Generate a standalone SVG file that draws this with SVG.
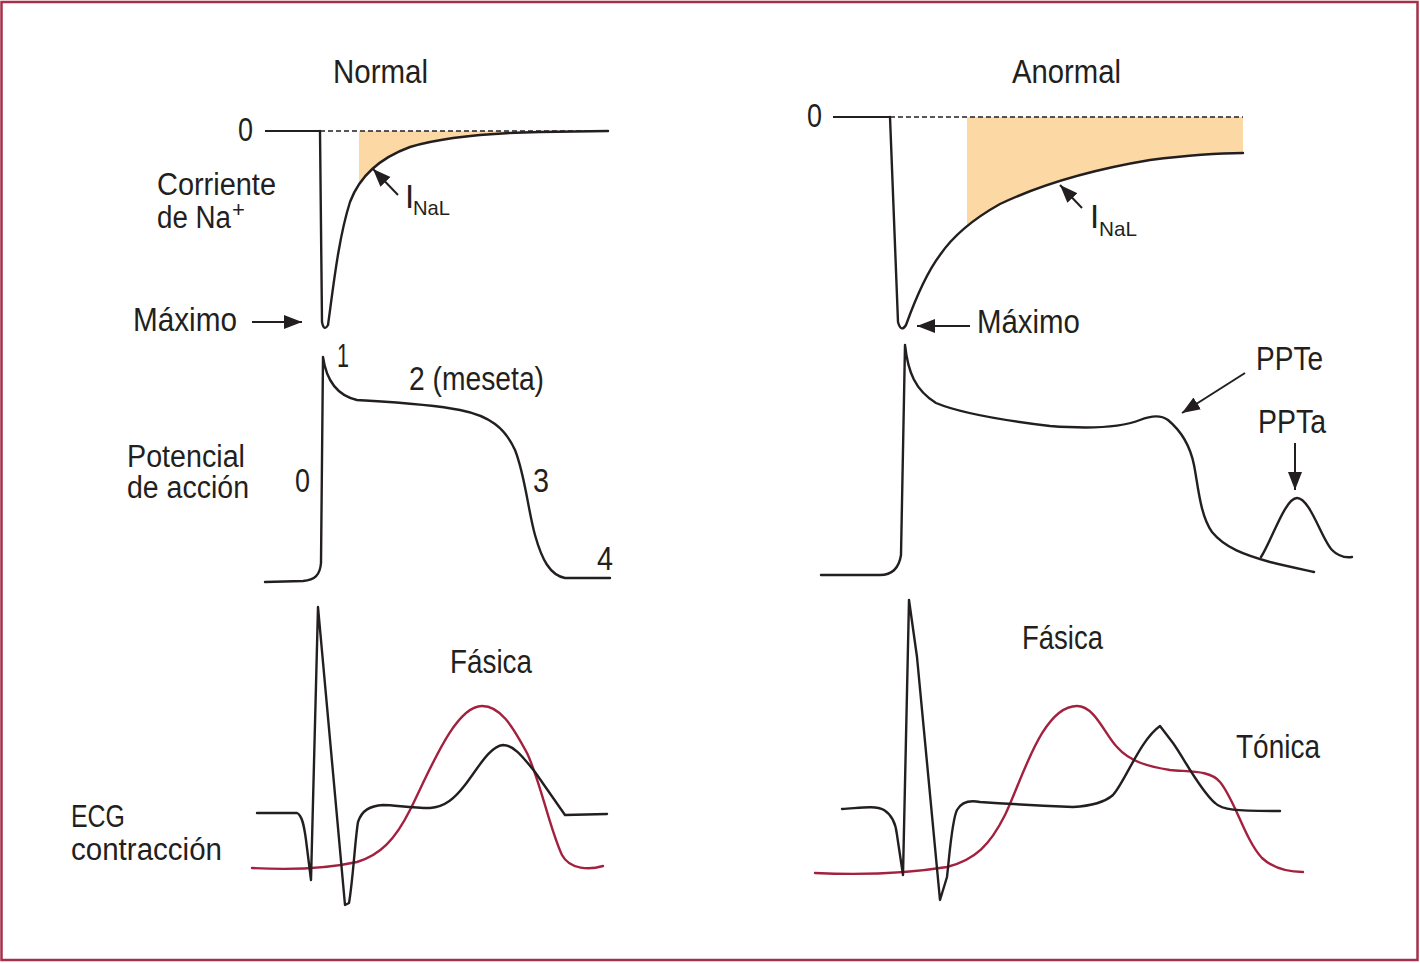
<svg xmlns="http://www.w3.org/2000/svg" width="1420" height="963" viewBox="0 0 1420 963">
<style>
text{font-family:"Liberation Sans",Arial,sans-serif;font-size:33px;fill:#231f20}
.sub{font-size:21px}
.two{font-size:31px}
.c{fill:none;stroke:#231f20;stroke-width:2.4;stroke-linejoin:round;stroke-linecap:round}
.r{fill:none;stroke:#a3213f;stroke-width:2.4;stroke-linejoin:round;stroke-linecap:round}
.ax{fill:none;stroke:#231f20;stroke-width:2}
.dash{fill:none;stroke:#231f20;stroke-width:1.6;stroke-dasharray:5 3}
.fill{fill:#fcd8a4;stroke:none}
.arr{fill:none;stroke:#231f20;stroke-width:2;marker-end:url(#ah)}
</style>
<defs>
<marker id="ah" markerUnits="userSpaceOnUse" markerWidth="20" markerHeight="16" refX="18" refY="7" orient="auto">
<path d="M0,0 L18,7 L0,14 z" fill="#231f20"/>
</marker>
<clipPath id="clipN"><rect x="359" y="120" width="260" height="120"/></clipPath>
<clipPath id="clipA"><rect x="967" y="100" width="277" height="200"/></clipPath>
</defs>
<rect x="1.5" y="2" width="1416" height="958" fill="#ffffff" stroke="#a62f4a" stroke-width="2.5"/>

<g id="titles">
<text x="333" y="83" textLength="95" lengthAdjust="spacingAndGlyphs">Normal</text>
<text x="1012" y="83" textLength="109" lengthAdjust="spacingAndGlyphs">Anormal</text>
</g>

<g id="row-labels">
<text class="two" x="157" y="195" textLength="119" lengthAdjust="spacingAndGlyphs">Corriente</text>
<text class="two" x="157" y="228" textLength="74" lengthAdjust="spacingAndGlyphs">de Na</text>
<text x="232" y="217" style="font-size:22px">+</text>
<text class="two" x="127" y="467" textLength="118" lengthAdjust="spacingAndGlyphs">Potencial</text>
<text class="two" x="127" y="498" textLength="122" lengthAdjust="spacingAndGlyphs">de acción</text>
<text class="two" x="71" y="827" textLength="54" lengthAdjust="spacingAndGlyphs">ECG</text>
<text class="two" x="71" y="860" textLength="151" lengthAdjust="spacingAndGlyphs">contracción</text>
</g>

<g id="normal-current">
<path class="fill" clip-path="url(#clipN)" d="M320,131 L322,322 Q324,332 328,325 C333,290 338,240 350,202 C360,175 380,158 410,147 C440,138 490,133 540,132 L608,131 Z"/>
<line class="ax" x1="265" y1="131" x2="320" y2="131"/>
<line class="dash" x1="320" y1="131" x2="608" y2="131"/>
<path class="c" d="M320,131 L322,322 Q324,332 328,325 C333,290 338,240 350,202 C360,175 380,158 410,147 C440,138 490,133 540,132 L608,131"/>
<text x="238" y="141" textLength="15" lengthAdjust="spacingAndGlyphs">0</text>
<text x="405" y="208">I</text>
<text class="sub" x="413" y="215" textLength="37" lengthAdjust="spacingAndGlyphs">NaL</text>
<text x="133" y="331" textLength="104" lengthAdjust="spacingAndGlyphs">Máximo</text>
</g>

<g id="abnormal-current">
<path class="fill" clip-path="url(#clipA)" d="M890,117 L898,322 Q901,333 906,325 C915,300 925,275 940,255 C955,233 975,218 1000,204 C1040,185 1090,170 1150,160 C1190,155 1220,153 1243,153 L1243,117 Z"/>
<line class="ax" x1="833" y1="117" x2="890" y2="117"/>
<line class="dash" x1="890" y1="117" x2="1243" y2="117"/>
<path class="c" d="M890,117 L898,322 Q901,333 906,325 C915,300 925,275 940,255 C955,233 975,218 1000,204 C1040,185 1090,170 1150,160 C1190,155 1220,153 1243,153"/>
<text x="807" y="127" textLength="15" lengthAdjust="spacingAndGlyphs">0</text>
<text x="1090" y="228">I</text>
<text class="sub" x="1099" y="236" textLength="38" lengthAdjust="spacingAndGlyphs">NaL</text>
<text x="977" y="333" textLength="103" lengthAdjust="spacingAndGlyphs">Máximo</text>
</g>

<g id="normal-ap">
<path class="c" d="M265,582 L303,581 C315,580 320,575 321,563 L323,357 C326,378 335,395 357,400 C390,402 430,404 460,410 C490,416 505,428 515,450 C525,475 528,510 535,535 C542,560 550,575 565,578 L610,578"/>
<text x="337" y="367" textLength="12" lengthAdjust="spacingAndGlyphs">1</text>
<text x="409" y="390" textLength="135" lengthAdjust="spacingAndGlyphs">2 (meseta)</text>
<text x="295" y="492" textLength="15" lengthAdjust="spacingAndGlyphs">0</text>
<text x="533" y="492" textLength="16" lengthAdjust="spacingAndGlyphs">3</text>
<text x="597" y="570" textLength="16" lengthAdjust="spacingAndGlyphs">4</text>
</g>

<g id="abnormal-ap">
<path class="c" d="M821,575 L880,575 C893,575 899,568 901,555 L905,345 C908,372 915,390 936,403 C960,413 1000,420 1050,426 C1090,429 1120,428 1140,420 C1150,416 1160,414 1168,420 C1180,430 1190,445 1194,465 C1198,485 1200,515 1212,532 C1225,548 1245,555 1270,562 C1290,567 1305,570 1314,572"/>
<path class="c" d="M1261,557 C1272,540 1285,498 1297,498 C1310,498 1322,540 1332,550 C1338,556 1345,558 1352,557"/>
<text x="1256" y="370" textLength="67" lengthAdjust="spacingAndGlyphs">PPTe</text>
<text x="1258" y="433" textLength="68" lengthAdjust="spacingAndGlyphs">PPTa</text>
</g>

<g id="normal-ecg">
<path class="r" d="M252,868 C290,870 330,868 357,862 C380,855 395,840 410,810 C430,770 455,706 482,706 C500,706 512,725 527,753 C540,780 550,830 562,855 C570,870 590,870 603,866"/>
<path class="c" d="M257,813 L297,813 C302,815 304,825 306,840 L311,880 L318,607 L345,905 L349,903 C353,880 355,840 358,822 C362,810 370,806 383,805 C395,805 410,808 430,808 C445,807 455,798 465,785 C478,768 490,746 503,745 C515,745 525,760 535,772 L565,815 L607,814"/>
<text x="450" y="673" textLength="82" lengthAdjust="spacingAndGlyphs">Fásica</text>
</g>

<g id="abnormal-ecg">
<path class="r" d="M815,873 C860,875 910,873 947,867 C975,860 990,845 1005,815 C1022,780 1042,706 1077,706 C1095,706 1105,735 1117,747 C1130,762 1150,767 1170,770 C1190,772 1210,770 1220,782 C1235,800 1245,840 1262,858 C1275,870 1290,872 1303,872"/>
<path class="c" d="M842,809 C860,808 875,805 884,810 C892,815 896,825 897,835 L903,875 L909,600 L917,657 L940,900 L947,877 C950,850 952,820 957,810 C962,801 970,800 980,802 C1010,804 1050,806 1073,807 C1090,806 1105,802 1113,795 C1125,782 1140,740 1160,726 L1173,743 C1185,760 1200,790 1215,803 C1222,810 1235,811 1280,811"/>
<text x="1022" y="649" textLength="81" lengthAdjust="spacingAndGlyphs">Fásica</text>
<text x="1236" y="758" textLength="84" lengthAdjust="spacingAndGlyphs">Tónica</text>
</g>

<g id="connectors">
<line class="arr" x1="252" y1="322" x2="302" y2="322"/>
<line class="arr" x1="398" y1="195" x2="373" y2="169"/>
<line class="arr" x1="970" y1="326" x2="917" y2="326"/>
<line class="arr" x1="1082" y1="208" x2="1060" y2="185"/>
<line class="arr" x1="1245" y1="373" x2="1182" y2="413"/>
<line class="arr" x1="1295" y1="443" x2="1295" y2="490"/>
</g>
</svg>
